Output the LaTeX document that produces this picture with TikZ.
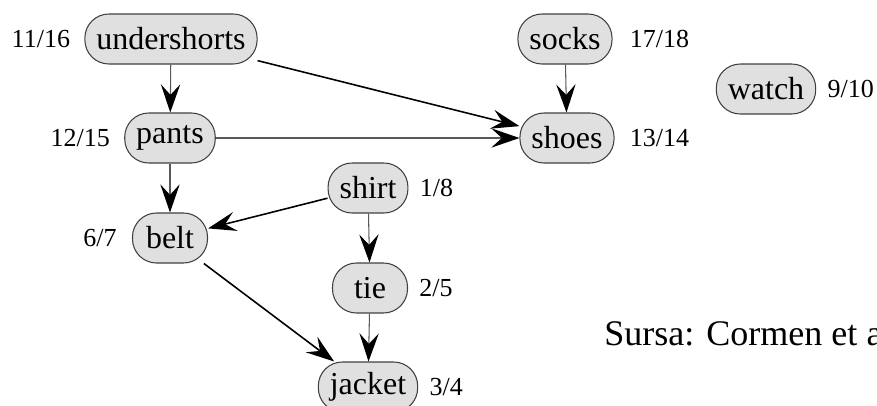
\documentclass[tikz,border=0pt]{standalone}
\usepackage{fontspec}
\setmainfont{Liberation Serif}
\usetikzlibrary{arrows.meta,positioning}

\begin{document}
\begin{tikzpicture}[auto,
  >={Stealth[length=16pt,width=11pt,inset=6pt,color=black]},
  obj/.style={draw=black!75, fill=black!12, line width=0.6pt, rounded corners=0.48cm,
    minimum height=1cm, minimum width=1.5cm, inner xsep=0.23cm, inner ysep=0pt,
    font=\fontsize{18.2}{20}\selectfont},
  num/.style={inner sep=0pt, font=\fontsize{14.8}{16}\selectfont},
  straightedge/.style={->, draw=black!65, line width=0.6pt},
  slantedge/.style={->, draw=black, line width=0.9pt}]
\clip (0,0) rectangle (17.54,8.1);

\node[obj] (u) at (3.42, 7.32) {undershorts}; \node[obj] (s) at (11.30, 7.32) {socks};
\node[obj] (w) at (15.32, 6.32) {watch};
\node[obj] (p) at (3.40, 5.34) {pants};   \node[obj] (sh) at (11.34, 5.34) {shoes};
\node[obj] (t) at (7.36, 4.34) {shirt};
\node[obj] (b) at (3.40, 3.34) {belt};    \node[obj] (ti) at (7.40, 2.34) {tie};
\node[obj] (j) at (7.36, 0.36) {jacket};

\node[num, left=0.28cm of u] (ut) {11/16}; \node[num, right=0.34cm of s] (st) {17/18};
\node[num, right=0.22cm of w] (wt) {9/10};
\node[num, left=0.28cm of p] (pt) {12/15}; \node[num, right=0.3cm of sh] (sht) {13/14};
\node[num, right=0.22cm of t] (tt) {1/8};
\node[num, left=0.3cm of b] (bt) {6/7};    \node[num, right=0.22cm of ti] (tit) {2/5};
\node[num, right=0.22cm of j] (jt) {3/4};

\draw[straightedge] (u) to (p);
\draw[slantedge] (u) to (sh);
\draw[straightedge] (s) to (sh);
\draw[straightedge] (p) to (sh);
\draw[straightedge] (p) to (b);
\draw[slantedge] (t) to (b);
\draw[straightedge] (t) to (ti);
\draw[slantedge] (b) to (j);
\draw[straightedge] (ti) to (j);

\node[anchor=base west, inner sep=0pt, font=\fontsize{20.5}{24}\selectfont] (src) at (12.08, 1.20) {Sursa: Cormen et a};
\end{tikzpicture}
\end{document}
